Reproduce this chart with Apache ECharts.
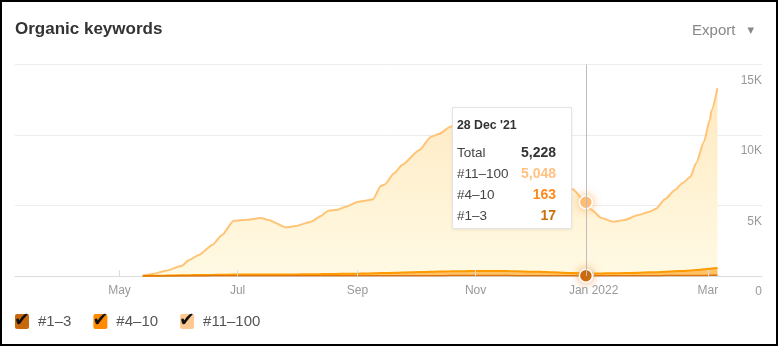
<!DOCTYPE html>
<html>
<head>
<meta charset="utf-8">
<script src="https://cdn.jsdelivr.net/npm/echarts@6/dist/echarts.min.js"></script>
<style>
  html, body { margin: 0; padding: 0; background: #fff; }
  #chart { position: absolute; left: 0; top: 0; width: 778px; height: 346px; }
  #frame { position: absolute; left: 0; top: 0; width: 778px; height: 346px; box-sizing: border-box; border: 2px solid #000; pointer-events: none; }
</style>
</head>
<body>
<div id="chart"></div>
<div id="frame"></div>
<script>
// Daily snapshots of ranking keywords, by position bucket
const dates = [
  '2021-05-13','2021-05-18','2021-05-25','2021-06-02','2021-06-06','2021-06-11','2021-06-18','2021-06-23','2021-06-29','2021-07-06',
  '2021-07-13','2021-07-17','2021-07-26','2021-07-31','2021-08-08','2021-08-13','2021-08-17','2021-08-21','2021-08-26','2021-09-01',
  '2021-09-05','2021-09-09','2021-09-13','2021-09-15','2021-09-20','2021-09-24','2021-10-03','2021-10-09','2021-10-13','2021-10-19',
  '2021-10-26','2021-11-03','2021-11-10','2021-11-18','2021-11-26','2021-12-04','2021-12-11','2021-12-17','2021-12-21','2021-12-28',
  '2021-12-31','2022-01-05','2022-01-11','2022-01-17','2022-01-24','2022-01-30','2022-02-02','2022-02-07','2022-02-12','2022-02-16',
  '2022-02-20','2022-02-23','2022-02-27','2022-03-02','2022-03-03','2022-03-06'
];
const top1to3 = [
  0, 2, 4, 6, 7, 8, 9, 10, 11, 12,
  12, 12, 12, 13, 14, 15, 15, 16, 17, 18,
  18, 19, 20, 20, 21, 22, 24, 25, 26, 27,
  27, 28, 28, 27, 25, 23, 21, 19, 18, 17,
  17, 18, 19, 20, 22, 24, 25, 27, 30, 32,
  35, 38, 42, 46, 48, 52
];
const top4to10 = [
  5, 15, 30, 45, 55, 60, 70, 80, 90, 95,
  100, 100, 95, 100, 110, 120, 125, 130, 140, 150,
  160, 170, 185, 190, 210, 225, 255, 275, 290, 305,
  315, 330, 330, 320, 300, 270, 240, 210, 190, 163,
  160, 165, 175, 190, 210, 235, 245, 270, 300, 330,
  360, 390, 430, 470, 480, 510
];
const top11to100 = [
  25, 123, 341, 659, 1073, 1422, 2121, 2820, 3819, 3883,
  3998, 3858, 3343, 3437, 3726, 4120, 4490, 4534, 4758, 5082,
  5162, 5251, 6175, 6280, 7069, 7623, 8661, 9580, 9754, 10258,
  10648, 10842, 10772, 10363, 9675, 8787, 7609, 6721, 5962, 5048,
  4503, 3927, 3656, 3760, 4098, 4301, 4480, 5163, 5770, 6238,
  6645, 7582, 9048, 10544, 11242, 12748
];
const seriesNames = ['#1–3', '#4–10', '#11–100'];
const tickDates = ['2021-05-01', '2021-07-01', '2021-09-01', '2021-11-01', '2022-01-01', '2022-03-01'];
const tickLabels = ['May', 'Jul', 'Sep', 'Nov', 'Jan 2022', 'Mar'];
const axisStart = '2021-03-08';
const axisEnd = '2022-03-29';
const focusDate = '2021-12-28';

const FONT = '"Liberation Sans", Arial, Helvetica, sans-serif';
const COLORS = ['#c8690d', '#ff8c00', '#ffb36c'];
const VALUE_COLORS = ['#c8700a', '#ff8a1c', '#ffc283'];
const MONTHS = ['Jan','Feb','Mar','Apr','May','Jun','Jul','Aug','Sep','Oct','Nov','Dec'];

function ts(s) {
  const p = s.split('-').map(Number);
  return new Date(p[0], p[1] - 1, p[2]).getTime();
}
const tickTs = tickDates.map(ts);
function pairs(values) { return dates.map((d, i) => [ts(d), values[i]]); }
function fmt(n) { return n.toLocaleString('en-US'); }

const chart = echarts.init(document.getElementById('chart'));

const lineBase = {
  type: 'line',
  stack: 'keywords',
  xAxisIndex: 0,
  showSymbol: false,
  symbol: 'circle',
  symbolSize: 13,
  smooth: 0.2,
  smoothMonotone: 'x',
  emphasis: { scale: false }
};

const checkBox = function (bg) {
  return { backgroundColor: bg, width: 14, height: 15, borderRadius: 2, align: 'center', fontSize: 19, lineHeight: 15, color: '#111', fontFamily: '"DejaVu Sans", sans-serif' };
};

chart.setOption({
  animation: false,
  backgroundColor: '#fff',
  color: COLORS,
  textStyle: { fontFamily: FONT },
  title: [
    {
      text: 'Organic keywords', left: 10, top: 16,
      textStyle: { fontSize: 17, fontWeight: 'bold', color: '#333', fontFamily: FONT }
    },
    {
      text: '{e|Export}{a|▼}', right: 19, top: 18,
      textStyle: {
        fontWeight: 'normal',
        rich: {
          e: { fontSize: 15, fontWeight: 'normal', color: '#888', fontFamily: FONT },
          a: { fontSize: 8.5, fontWeight: 'normal', color: '#888', fontFamily: '"DejaVu Sans", sans-serif', padding: [0, 0, 0, 12] }
        }
      }
    }
  ],
  grid: { left: 15, right: 16, top: 64.5, bottom: 70, containLabel: false, outerBoundsMode: 'none' },
  legend: {
    left: 4, top: 307,
    itemWidth: 0, itemHeight: 0, itemGap: 16,
    selectedMode: false,
    data: seriesNames,
    formatter: function (name) {
      const i = seriesNames.indexOf(name);
      return '{b' + i + '|✔}{t|' + name + '}';
    },
    textStyle: {
      rich: {
        b0: checkBox(COLORS[0]),
        b1: checkBox(COLORS[1]),
        b2: checkBox('#ffc890'),
        t: { fontSize: 15, color: '#555', fontFamily: FONT, padding: [0, 0, 0, 9] }
      }
    }
  },
  tooltip: {
    trigger: 'axis',
    alwaysShowContent: true,
    transitionDuration: 0,
    padding: 0,
    borderWidth: 1,
    borderColor: '#e4e4e4',
    backgroundColor: '#fff',
    extraCssText: 'box-shadow:0 1px 3px rgba(0,0,0,0.08);border-radius:0;',
    position: function () { return [452, 107]; },
    axisPointer: {
      type: 'line',
      lineStyle: { color: '#bdbdbd', width: 1, type: 'solid' },
      label: { show: false }
    },
    formatter: function (params) {
      const vals = {};
      params.forEach(function (p) { vals[p.seriesName] = p.value[1]; });
      const d = new Date(params[0].value[0]);
      const title = d.getDate() + ' ' + MONTHS[d.getMonth()] + " '" + String(d.getFullYear()).slice(2);
      const total = seriesNames.reduce(function (s, n) { return s + (vals[n] || 0); }, 0);
      const rows = [['Total', total, '#333']];
      for (let i = seriesNames.length - 1; i >= 0; i--) {
        rows.push([seriesNames[i], vals[seriesNames[i]] || 0, VALUE_COLORS[i]]);
      }
      let html = '<div style="width:118px;height:120px;box-sizing:border-box;padding:10px 15px 0 4px;font-family:' + FONT.replace(/"/g, "'") + ';">';
      html += '<div style="font-size:12.3px;font-weight:bold;color:#333;line-height:14px;height:14px;margin-bottom:10px;">' + title + '</div>';
      rows.forEach(function (r) {
        html += '<div style="display:flex;justify-content:space-between;line-height:21px;height:21px;">' +
          '<span style="font-size:13.5px;color:#444;">' + r[0] + '</span>' +
          '<span style="font-size:14px;font-weight:bold;color:' + r[2] + ';">' + fmt(r[1]) + '</span></div>';
      });
      html += '</div>';
      return html;
    }
  },
  xAxis: [
    {
      // time scale carrying the series
      type: 'time',
      position: 'bottom',
      min: ts(axisStart),
      max: ts(axisEnd),
      axisLine: { lineStyle: { color: '#dcdcdc', width: 1 } },
      axisTick: { show: false },
      axisLabel: { show: false },
      splitLine: { show: false }
    },
    {
      // month ticks and labels on the same range
      type: 'value',
      position: 'bottom',
      offset: 0,
      z: 10,
      min: ts(axisStart),
      max: ts(axisEnd),
      axisLine: { show: false },
      axisPointer: { show: false },
      axisTick: { show: true, inside: true, length: 6, lineStyle: { color: '#dcdcdc' }, customValues: tickTs },
      axisLabel: {
        customValues: tickTs,
        color: '#999', fontSize: 12, margin: 9, fontFamily: FONT,
        formatter: function (v) {
          let best = 0, bestDiff = Infinity;
          tickTs.forEach(function (t, i) { const df = Math.abs(t - v); if (df < bestDiff) { bestDiff = df; best = i; } });
          return tickLabels[best];
        }
      },
      splitLine: { show: false }
    }
  ],
  yAxis: {
    type: 'value',
    position: 'right',
    min: 0, max: 15000, interval: 5000,
    axisLine: { show: false },
    axisTick: { show: false },
    splitLine: { lineStyle: { color: '#ececec', width: 1 } },
    axisLabel: {
      inside: true, margin: 0, align: 'right', verticalAlign: 'top', padding: [10, 0, 0, 0],
      color: '#999', fontSize: 12, fontFamily: FONT,
      formatter: function (v) { return v === 0 ? '0' : (v / 1000) + 'K'; }
    }
  },
  series: [
    Object.assign({}, lineBase, {
      name: seriesNames[0],
      data: pairs(top1to3),
      z: 4,
      lineStyle: { color: COLORS[0], width: 1.5 },
      areaStyle: { color: COLORS[0], opacity: 1 },
      itemStyle: { color: COLORS[0], borderColor: '#fff', borderWidth: 1.5, shadowBlur: 8, shadowColor: 'rgba(230,130,40,0.6)' }
    }),
    Object.assign({}, lineBase, {
      name: seriesNames[1],
      data: pairs(top4to10),
      z: 3,
      symbol: 'none',
      lineStyle: { color: COLORS[1], width: 2 },
      areaStyle: { color: COLORS[1], opacity: 0.6 },
      itemStyle: { color: COLORS[1] }
    }),
    Object.assign({}, lineBase, {
      name: seriesNames[2],
      data: pairs(top11to100),
      z: 2,
      lineStyle: { color: COLORS[2], width: 2 },
      areaStyle: {
        opacity: 1,
        color: new echarts.graphic.LinearGradient(0, 0, 0, 1, [
          { offset: 0, color: '#fdd4b0' },
          { offset: 1, color: '#fde4d0' }
        ])
      },
      itemStyle: { color: '#ffbf7a', borderColor: '#fff', borderWidth: 1.5, shadowBlur: 8, shadowColor: 'rgba(255,170,80,0.7)' }
    })
  ]
});

// Pin the tooltip on the selected day
function pinTip() {
  chart.dispatchAction({ type: 'showTip', seriesIndex: 2, dataIndex: dates.indexOf(focusDate) });
}
pinTip();
setTimeout(pinTip, 50);
</script>
</body>
</html>
